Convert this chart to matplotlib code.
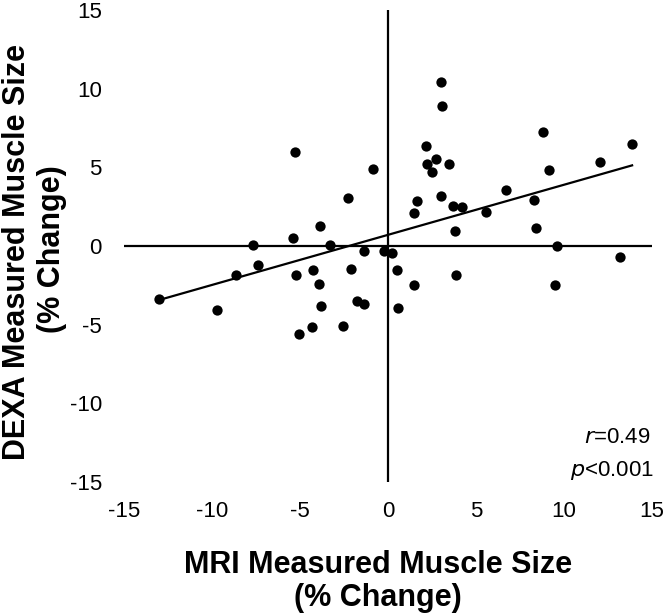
import numpy as np
import matplotlib.pyplot as plt

plt.rcParams['font.family'] = ['Liberation Sans', 'DejaVu Sans']
plt.rcParams['axes.unicode_minus'] = False

# % change, MRI (x) vs DEXA (y)
mri = [-5.26, -0.88, -2.30, -3.84, -5.38, -7.69, -3.31,
       3.03, 3.08, 8.83, 13.87, 2.17, 2.74, 2.22, 2.51, 3.45, 12.05, 9.15,
       3.03, 6.68, 1.63, 1.45, 3.68, 4.19, 8.28, 5.54, 3.80, 8.43, 9.61,
       -1.37, -0.20, 0.20, -7.37, -8.65, -13.0, -9.70, -5.20, -4.25, -3.93,
       -2.11, -3.82, -1.74, -1.35, -5.04, -4.30, -2.57,
       0.50, 1.50, 0.58, 3.86, 9.50, 13.16]
dexa = [6.0, 4.9, 3.05, 1.3, 0.52, 0.08, 0.05,
        10.4, 8.9, 7.26, 6.48, 6.35, 5.55, 5.23, 4.72, 5.19, 5.31, 4.81,
        3.16, 3.58, 2.86, 2.08, 2.52, 2.46, 2.95, 2.14, 0.96, 1.15, 0.03,
        -0.29, -0.30, -0.45, -1.22, -1.83, -3.39, -4.07, -1.87, -1.51, -2.4,
        -1.47, -3.82, -3.52, -3.71, -5.59, -5.17, -5.06,
        -1.53, -2.46, -3.92, -1.87, -2.48, -0.71]
ticks = [-15, -10, -5, 0, 5, 10, 15]

x = np.array(mri)
y = np.array(dexa)
slope, icept = np.polyfit(x, y, 1)

fig = plt.figure(figsize=(6.65, 6.16), dpi=100)
ax = fig.add_axes([124 / 665, 1 - 482 / 616, 528 / 665, 472 / 616])

ax.axhline(0, color='black', lw=1.6, zorder=1)
ax.axvline(0, color='black', lw=1.6, zorder=1)
ax.scatter(x, y, s=55, color='black', zorder=3, linewidths=0)
xl = np.array([x.min(), x.max()])
ax.plot(xl, slope * xl + icept, color='black', lw=1.6, zorder=2)

ax.set_xlim(-15, 15)
ax.set_ylim(-15, 15)
ax.set_xticks(ticks)
ax.set_yticks(ticks)
ax.tick_params(axis='both', length=0, labelsize=16)
ax.tick_params(axis='x', pad=14)
ax.tick_params(axis='y', pad=16)
for s in ax.spines.values():
    s.set_visible(False)

ax.text(14.9, -12.2, r'$\it{r}$=0.49', ha='right', va='center', fontsize=16)
ax.text(15.1, -14.25, r'$\it{p}$<0.001', ha='right', va='center', fontsize=16)

fig.text(378 / 665, 1 - 565 / 616, 'MRI Measured Muscle Size', ha='center', va='center',
         fontsize=22, fontweight='bold')
fig.text(378 / 665, 1 - 598 / 616, '(% Change)', ha='center', va='center',
         fontsize=22, fontweight='bold')
fig.text(17 / 665, 1 - 252 / 616, 'DEXA Measured Muscle Size', ha='center', va='center',
         rotation=90, fontsize=22, fontweight='bold')
fig.text(52 / 665, 1 - 249 / 616, '(% Change)', ha='center', va='center',
         rotation=90, fontsize=22, fontweight='bold')

fig.savefig('out.png', dpi=100)
